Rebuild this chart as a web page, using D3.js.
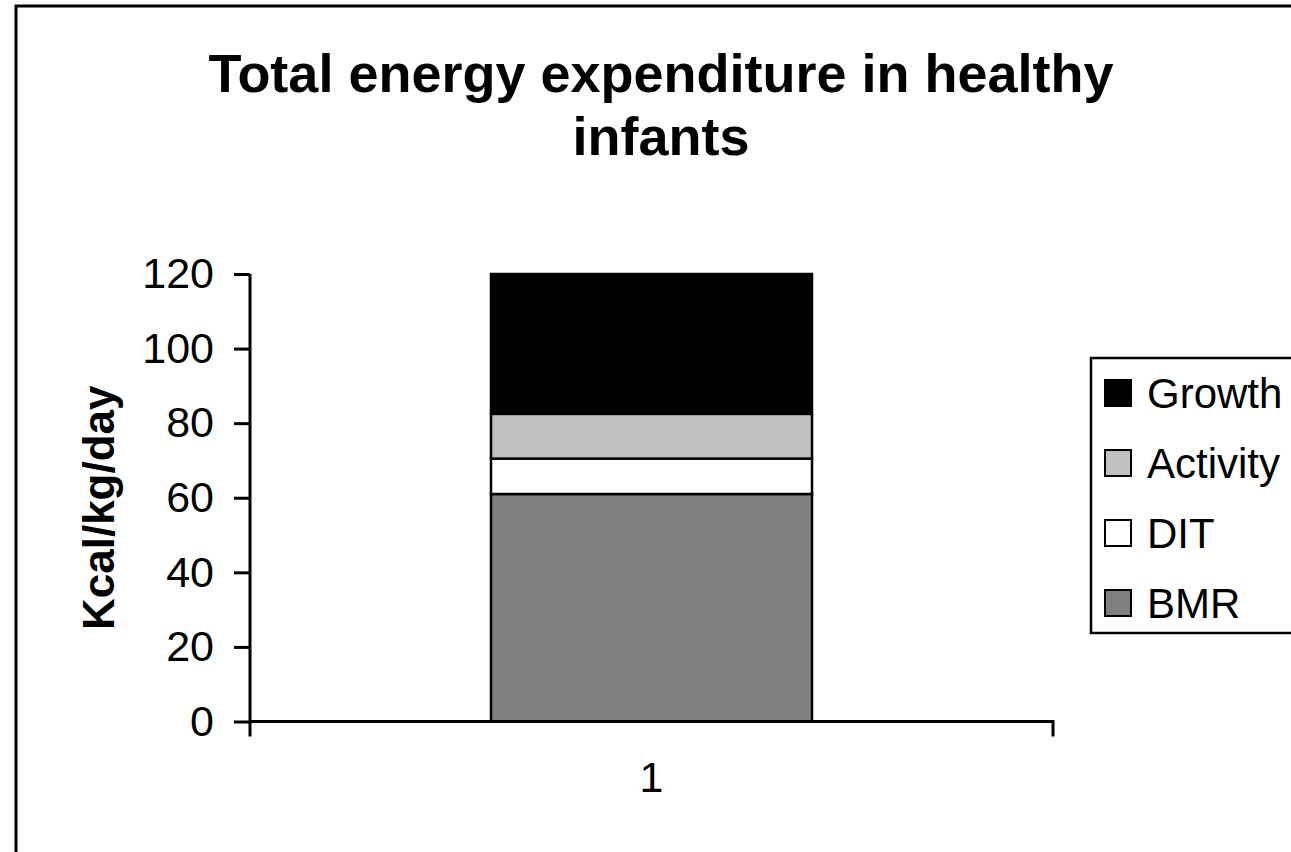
<!DOCTYPE html>
<html>
<head>
<meta charset="utf-8">
<script src="https://cdn.jsdelivr.net/npm/d3@7"></script>
<style>
  html, body { margin: 0; padding: 0; background: #fff; }
  svg { display: block; }
  text { font-family: "Liberation Sans", Arial, sans-serif; fill: #000; }
</style>
</head>
<body>
<svg id="chart" width="1291" height="852"></svg>
<script>
// Stacked components of energy expenditure (bottom to top)
const categories = ["1"];
const seriesNames = ["BMR", "DIT", "Activity", "Growth"];
const BMR = [61];
const DIT = [9.5];
const Activity = [12];
const Growth = [37.5];
const seriesValues = [BMR, DIT, Activity, Growth];
const seriesColors = ["#808080", "#ffffff", "#c0c0c0", "#000000"];
const yTicks = [0, 20, 40, 60, 80, 100, 120];

const svg = d3.select("#chart");
const FONT = "Liberation Sans, Arial, sans-serif";

// outer chart border (runs off the right and bottom edges)
svg.append("rect")
  .attr("x", 16).attr("y", 6)
  .attr("width", 1400).attr("height", 1000)
  .attr("fill", "#fff").attr("stroke", "#000").attr("stroke-width", 3);

// title
const title = svg.append("text")
  .attr("text-anchor", "middle")
  .attr("font-weight", "bold")
  .attr("font-size", 54);
title.append("tspan").attr("x", 661).attr("y", 92).text("Total energy expenditure in healthy");
title.append("tspan").attr("x", 661).attr("y", 155).text("infants");

const plot = { left: 250, right: 1053, top: 274, bottom: 721.5 };

const x = d3.scaleBand()
  .domain(categories)
  .range([plot.left, plot.right])
  .paddingInner(0.6).paddingOuter(0.3);

const y = d3.scaleLinear()
  .domain([0, 120])
  .range([plot.bottom, plot.top]);

// build stacked data
const rows = categories.map((c, i) => {
  const r = { cat: c };
  seriesNames.forEach((s, k) => r[s] = seriesValues[k][i]);
  return r;
});
const stacked = d3.stack().keys(seriesNames)(rows);

const bw = 321;
stacked.forEach((layer, k) => {
  svg.append("g").selectAll("rect")
    .data(layer)
    .join("rect")
    .attr("x", d => x(d.data.cat) + x.bandwidth() / 2 - bw / 2)
    .attr("width", bw)
    .attr("y", d => y(d[1]))
    .attr("height", d => y(d[0]) - y(d[1]))
    .attr("fill", seriesColors[k])
    .attr("stroke", "#000")
    .attr("stroke-width", 2.5);
});

// y axis
const yAxis = svg.append("g")
  .attr("transform", `translate(${plot.left},0)`)
  .call(d3.axisLeft(y).tickValues(yTicks).tickSize(16).tickPadding(20).tickFormat(d3.format("d")));
yAxis.select(".domain").attr("stroke-width", 3).attr("d", `M0,${plot.top}V${plot.bottom + 15}`);
yAxis.selectAll(".tick line").attr("stroke-width", 3);
yAxis.selectAll(".tick text").attr("font-size", 43).attr("font-family", FONT);

// x axis
const xAxis = svg.append("g")
  .attr("transform", `translate(0,${plot.bottom})`)
  .call(d3.axisBottom(x).tickSize(0).tickPadding(40));
xAxis.select(".domain").attr("stroke-width", 3)
  .attr("d", `M${plot.left},0H${plot.right}V15`);
xAxis.selectAll(".tick text").attr("font-size", 43).attr("font-family", FONT);

// y axis title
svg.append("text")
  .attr("transform", `translate(114,${(plot.top + plot.bottom) / 2 + 10}) rotate(-90)`)
  .attr("text-anchor", "middle")
  .attr("font-weight", "bold")
  .attr("font-size", 44)
  .text("Kcal/kg/day");

// legend
const legend = svg.append("g");
legend.append("rect")
  .attr("x", 1091).attr("y", 358)
  .attr("width", 300).attr("height", 275)
  .attr("fill", "#fff").attr("stroke", "#000").attr("stroke-width", 2.5);

const legendOrder = seriesNames.map((s, k) => ({ name: s, color: seriesColors[k] })).reverse();
const ly = d3.scalePoint().domain(legendOrder.map(d => d.name)).range([393, 603]);
const items = legend.selectAll("g.item").data(legendOrder).join("g").attr("class", "item")
  .attr("transform", d => `translate(1105,${ly(d.name)})`);
items.append("rect")
  .attr("x", 0).attr("y", -13).attr("width", 26).attr("height", 26)
  .attr("fill", d => d.color).attr("stroke", "#000").attr("stroke-width", 2);
items.append("text")
  .attr("x", 42).attr("y", 0).attr("dy", "0.35em")
  .attr("font-size", 42)
  .text(d => d.name);
</script>
</body>
</html>
